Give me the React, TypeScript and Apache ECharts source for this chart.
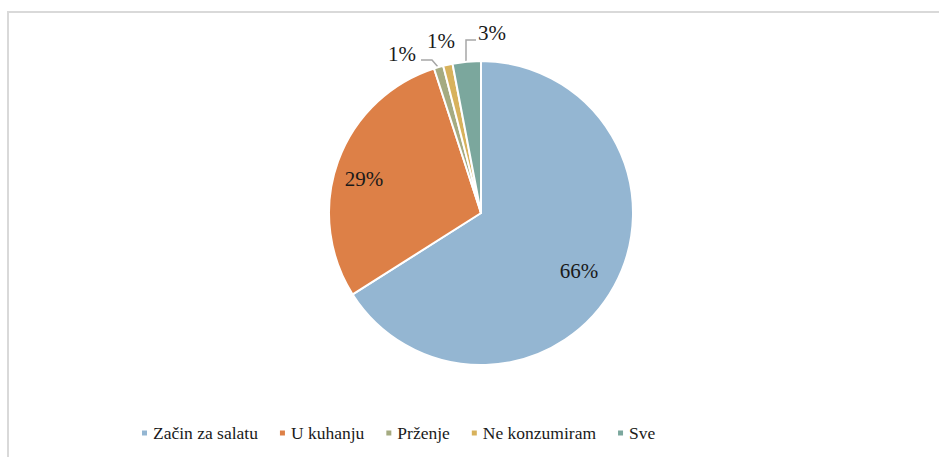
import React, { useEffect, useRef } from "react";
import * as echarts from "echarts";

const categories = ["Začin za salatu", "U kuhanju", "Prženje", "Ne konzumiram", "Sve"];
const values = [66, 29, 1, 1, 3];
const colors = ["#94B6D2", "#DD8047", "#A5AB81", "#D8B25C", "#7BA79D"];

// label layout (pixel positions of the text labels and leader lines)
const labelPos: { x: number; y: number; align: string; line?: number[][] }[] = [
  { x: 579, y: 271, align: "center" },
  { x: 364, y: 179, align: "center" },
  { x: 416, y: 54, align: "right", line: [[438, 67], [432, 60], [421, 60]] },
  { x: 441, y: 41, align: "center" },
  { x: 478, y: 33, align: "left", line: [[466, 62], [466, 40], [476, 40]] },
];

export default function App() {
  const ref = useRef<HTMLDivElement>(null);
  useEffect(() => {
    if (!ref.current) return;
    const chart = echarts.init(ref.current, undefined, { renderer: "svg" });
    const font = "Liberation Serif";
    chart.setOption({
      animation: false,
      color: colors,
      textStyle: { fontFamily: font },
      graphic: [
        {
          type: "rect",
          shape: { x: 8, y: 12, width: 1200, height: 1000 },
          style: { fill: "none", stroke: "#D9D9D9", lineWidth: 2 },
          silent: true,
        },
      ],
      legend: {
        left: 140,
        top: 424,
        padding: 0,
        itemWidth: 7,
        itemHeight: 7,
        itemGap: 20,
        icon: "rect",
        textStyle: { fontFamily: font, fontSize: 17.5, color: "#1a1a1a" },
        data: categories,
      },
      series: [
        {
          type: "pie",
          center: [481, 213],
          radius: 152,
          startAngle: 90,
          clockwise: true,
          avoidLabelOverlap: false,
          itemStyle: { borderColor: "#ffffff", borderWidth: 2 },
          label: {
            show: true,
            formatter: (p: any) => p.value + "%",
            fontFamily: font,
            fontSize: 21,
            color: "#1a1a1a",
          },
          labelLine: {
            show: true,
            lineStyle: { color: "#A6A6A6", width: 1.5 },
          },
          labelLayout: (params: any) => {
            const lp = labelPos[params.dataIndex];
            const res: any = {
              x: lp.x,
              y: lp.y,
              align: lp.align,
              verticalAlign: "middle",
            };
            if (lp.line) res.labelLinePoints = lp.line;
            return res;
          },
          data: categories.map((name, i) => ({
            name,
            value: values[i],
            labelLine: { show: !!labelPos[i].line },
          })),
        },
      ],
    });
    return () => chart.dispose();
  }, []);
  return (
    <div
      ref={ref}
      style={{ position: "absolute", left: 0, top: 0, width: 939, height: 457 }}
    />
  );
}
